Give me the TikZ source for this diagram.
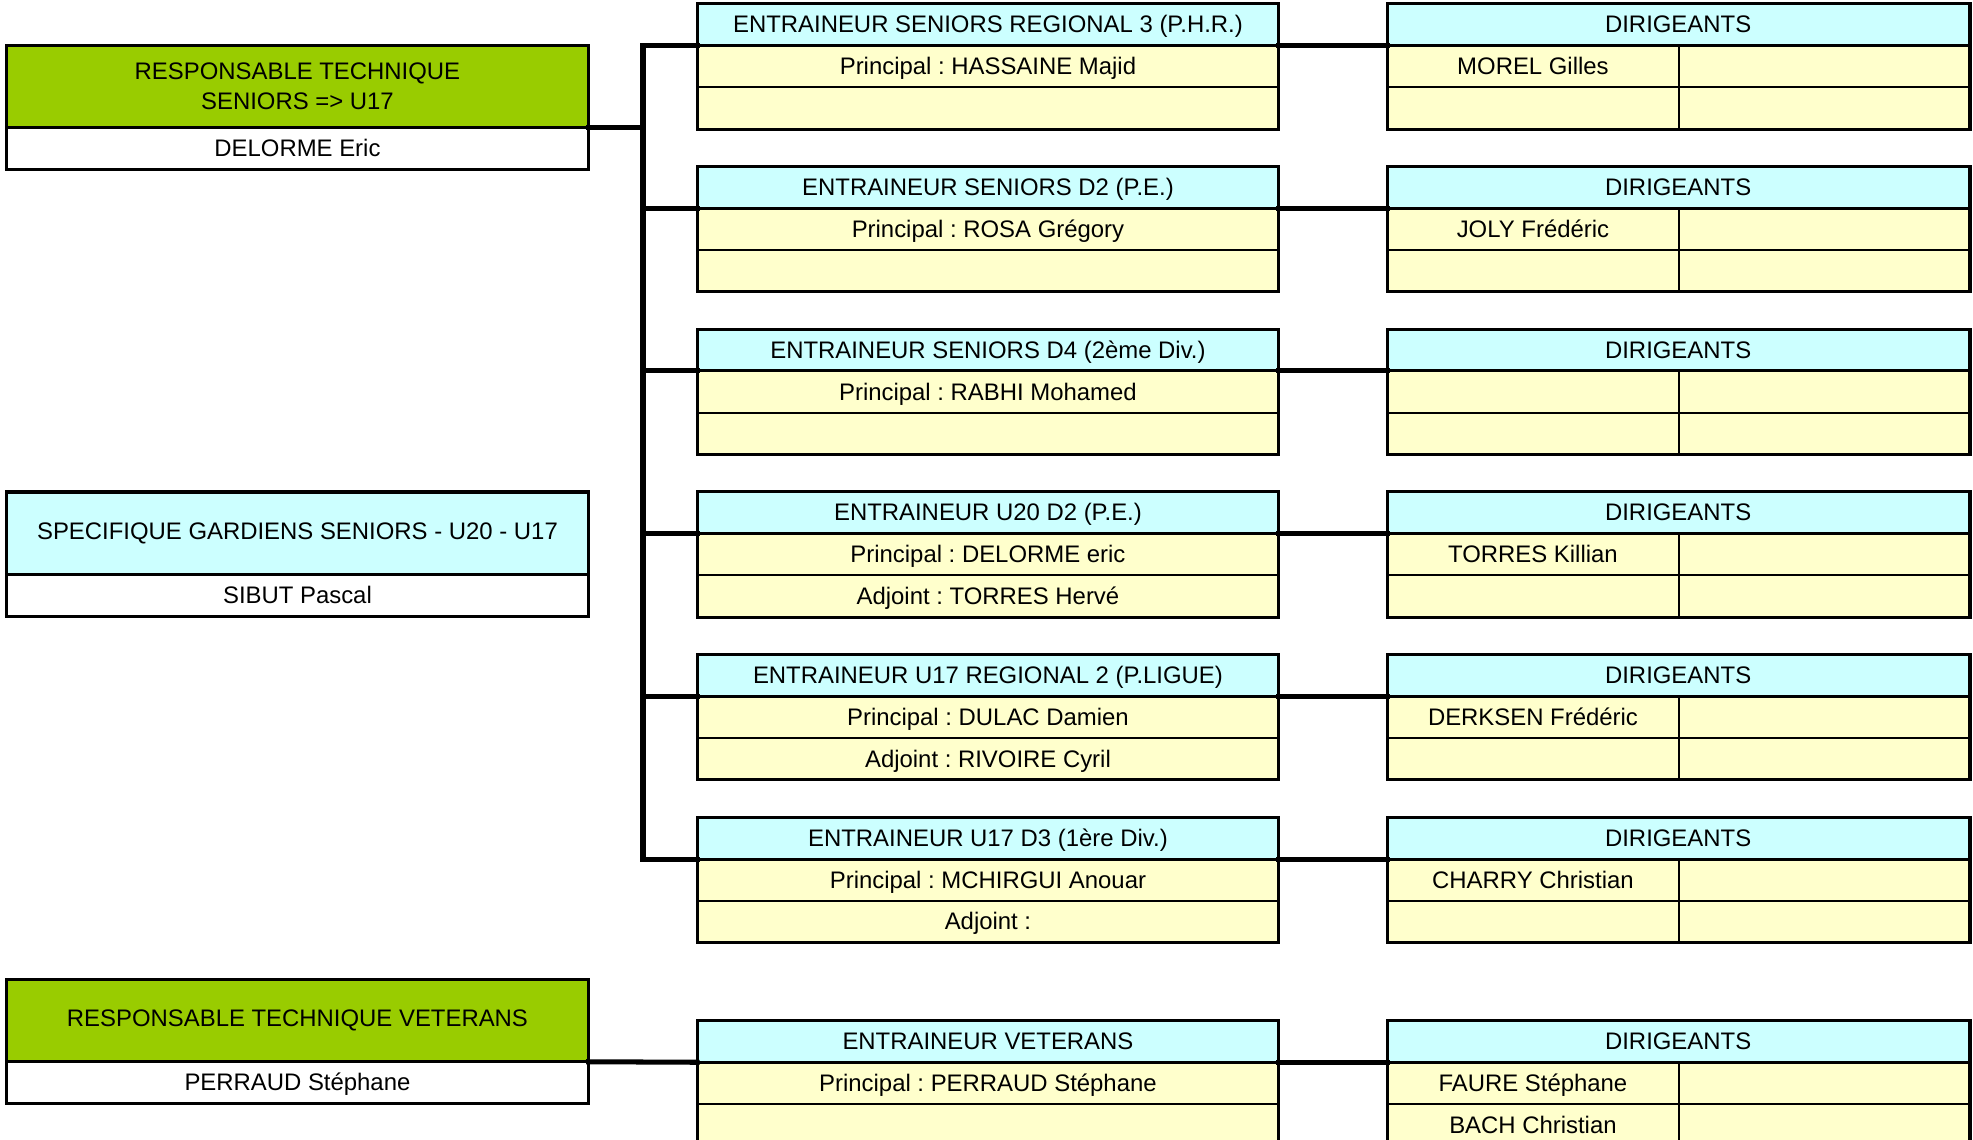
\documentclass[tikz,border=0pt]{standalone}
\usepackage{fontspec}
\setmainfont{Liberation Sans}
\frenchspacing
\usepackage{tikz}
\usetikzlibrary{positioning}
\definecolor{vert}{HTML}{99CC00}
\definecolor{bleuclair}{HTML}{CCFFFF}
\definecolor{jaune}{HTML}{FFFFCC}

\tikzset{
  base/.style={draw, line width=0.8pt, rectangle, inner sep=0pt, anchor=north west,
    font=\fontsize{19}{24}\selectfont},
  cell/.style={base, text height=16pt, text depth=3pt},
  head/.style={cell, fill=bleuclair, minimum width=461.5pt, minimum height=32.4pt},
  row/.style={cell, fill=jaune, minimum width=461.5pt, minimum height=32.4pt},
  half/.style={cell, fill=jaune, minimum width=230.75pt, minimum height=32.4pt},
  big/.style={base, minimum width=462pt, minimum height=64.5pt, align=center},
  nom/.style={cell, fill=white, minimum width=462pt, minimum height=32.5pt},
  frame/.style={line width=2.4pt},
  conn/.style={line width=4pt, line cap=rect}
}

\begin{document}
\begin{tikzpicture}[x=1pt, y=-1pt]
      \useasboundingbox (0,0) rectangle (1568,905.3);

      \node[big, fill=vert] (rt1) at (5,36) {RESPONSABLE TECHNIQUE\\SENIORS => U17};
      \node[nom] (rt1n) at (rt1.south west) {DELORME Eric};
      \node[big, fill=bleuclair] (gard) at (5,391) {SPECIFIQUE GARDIENS SENIORS - U20 - U17};
      \node[nom] (gardn) at (gard.south west) {SIBUT Pascal};
      \node[big, fill=vert] (rt2) at (5,778.5) {RESPONSABLE TECHNIQUE VETERANS};
      \node[nom] (rt2n) at (rt2.south west) {PERRAUD Stéphane};

      \node[head] (ent1) at (554,3) {ENTRAINEUR SENIORS REGIONAL 3 (P.H.R.)};
      \node[row] (ent1a) at (ent1.south west) {Principal : HASSAINE Majid};
      \node[row] (ent1b) at (ent1a.south west) {};
      \node[head] (ent2) at (554,132.3) {ENTRAINEUR SENIORS D2 (P.E.)};
      \node[row] (ent2a) at (ent2.south west) {Principal : ROSA Grégory};
      \node[row] (ent2b) at (ent2a.south west) {};
      \node[head] (ent3) at (554,261.6) {ENTRAINEUR SENIORS D4 (2ème Div.)};
      \node[row] (ent3a) at (ent3.south west) {Principal : RABHI Mohamed};
      \node[row] (ent3b) at (ent3a.south west) {};
      \node[head] (ent4) at (554,390.9) {ENTRAINEUR U20 D2 (P.E.)};
      \node[row] (ent4a) at (ent4.south west) {Principal : DELORME eric};
      \node[row] (ent4b) at (ent4a.south west) {Adjoint : TORRES Hervé};
      \node[head] (ent5) at (554,520.2) {ENTRAINEUR U17 REGIONAL 2 (P.LIGUE)};
      \node[row] (ent5a) at (ent5.south west) {Principal : DULAC Damien};
      \node[row] (ent5b) at (ent5a.south west) {Adjoint : RIVOIRE Cyril};
      \node[head] (ent6) at (554,649.5) {ENTRAINEUR U17 D3 (1ère Div.)};
      \node[row] (ent6a) at (ent6.south west) {Principal : MCHIRGUI Anouar};
      \node[row] (ent6b) at (ent6a.south west) {Adjoint :};
      \node[head] (ent7) at (554,811) {ENTRAINEUR VETERANS};
      \node[row] (ent7a) at (ent7.south west) {Principal : PERRAUD Stéphane};
      \node[row] (ent7b) at (ent7a.south west) {};

      \node[head] (dir1) at (1102.5,3) {DIRIGEANTS};
      \node[half] (dir1a) at (dir1.south west) {MOREL Gilles};
      \node[half] (dir1b) at (dir1a.north east) {};
      \node[half] (dir1c) at (dir1a.south west) {};
      \node[half] (dir1d) at (dir1c.north east) {};
      \node[head] (dir2) at (1102.5,132.3) {DIRIGEANTS};
      \node[half] (dir2a) at (dir2.south west) {JOLY Frédéric};
      \node[half] (dir2b) at (dir2a.north east) {};
      \node[half] (dir2c) at (dir2a.south west) {};
      \node[half] (dir2d) at (dir2c.north east) {};
      \node[head] (dir3) at (1102.5,261.6) {DIRIGEANTS};
      \node[half] (dir3a) at (dir3.south west) {};
      \node[half] (dir3b) at (dir3a.north east) {};
      \node[half] (dir3c) at (dir3a.south west) {};
      \node[half] (dir3d) at (dir3c.north east) {};
      \node[head] (dir4) at (1102.5,390.9) {DIRIGEANTS};
      \node[half] (dir4a) at (dir4.south west) {TORRES Killian};
      \node[half] (dir4b) at (dir4a.north east) {};
      \node[half] (dir4c) at (dir4a.south west) {};
      \node[half] (dir4d) at (dir4c.north east) {};
      \node[head] (dir5) at (1102.5,520.2) {DIRIGEANTS};
      \node[half] (dir5a) at (dir5.south west) {DERKSEN Frédéric};
      \node[half] (dir5b) at (dir5a.north east) {};
      \node[half] (dir5c) at (dir5a.south west) {};
      \node[half] (dir5d) at (dir5c.north east) {};
      \node[head] (dir6) at (1102.5,649.5) {DIRIGEANTS};
      \node[half] (dir6a) at (dir6.south west) {CHARRY Christian};
      \node[half] (dir6b) at (dir6a.north east) {};
      \node[half] (dir6c) at (dir6a.south west) {};
      \node[half] (dir6d) at (dir6c.north east) {};
      \node[head] (dir7) at (1102.5,811) {DIRIGEANTS};
      \node[half] (dir7a) at (dir7.south west) {FAURE Stéphane};
      \node[half] (dir7b) at (dir7a.north east) {};
      \node[half] (dir7c) at (dir7a.south west) {BACH Christian};
      \node[half] (dir7d) at (dir7c.north east) {};

      \draw[frame] (rt1.north west) rectangle (rt1n.south east);
      \draw[frame] (rt1.south west) -- (rt1.south east);
      \draw[frame] (gard.north west) rectangle (gardn.south east);
      \draw[frame] (gard.south west) -- (gard.south east);
      \draw[frame] (rt2.north west) rectangle (rt2n.south east);
      \draw[frame] (rt2.south west) -- (rt2.south east);

      \draw[frame] (ent1.north west) rectangle (ent1b.south east);
      \draw[frame] (ent1.south west) -- (ent1.south east);
      \draw[frame] (ent2.north west) rectangle (ent2b.south east);
      \draw[frame] (ent2.south west) -- (ent2.south east);
      \draw[frame] (ent3.north west) rectangle (ent3b.south east);
      \draw[frame] (ent3.south west) -- (ent3.south east);
      \draw[frame] (ent4.north west) rectangle (ent4b.south east);
      \draw[frame] (ent4.south west) -- (ent4.south east);
      \draw[frame] (ent5.north west) rectangle (ent5b.south east);
      \draw[frame] (ent5.south west) -- (ent5.south east);
      \draw[frame] (ent6.north west) rectangle (ent6b.south east);
      \draw[frame] (ent6.south west) -- (ent6.south east);
      \draw[frame] (ent7.north west) rectangle (ent7b.south east);
      \draw[frame] (ent7.south west) -- (ent7.south east);

      \draw[frame] (dir1.north west) rectangle (dir1d.south east);
      \draw[frame] (dir1.south west) -- (dir1.south east);
      \draw[frame] (dir2.north west) rectangle (dir2d.south east);
      \draw[frame] (dir2.south west) -- (dir2.south east);
      \draw[frame] (dir3.north west) rectangle (dir3d.south east);
      \draw[frame] (dir3.south west) -- (dir3.south east);
      \draw[frame] (dir4.north west) rectangle (dir4d.south east);
      \draw[frame] (dir4.south west) -- (dir4.south east);
      \draw[frame] (dir5.north west) rectangle (dir5d.south east);
      \draw[frame] (dir5.south west) -- (dir5.south east);
      \draw[frame] (dir6.north west) rectangle (dir6d.south east);
      \draw[frame] (dir6.south west) -- (dir6.south east);
      \draw[frame] (dir7.north west) rectangle (dir7d.south east);
      \draw[frame] (dir7.south west) -- (dir7.south east);

      \coordinate (tronc) at (511,0);
      \draw[conn] (rt1.south east) -- (rt1.south east -| tronc);
      \draw[conn] (ent1.south west -| tronc) -- (ent6.south west -| tronc);
      \draw[conn] (ent1.south west -| tronc) -- (ent1.south west);
      \draw[conn] (ent2.south west -| tronc) -- (ent2.south west);
      \draw[conn] (ent3.south west -| tronc) -- (ent3.south west);
      \draw[conn] (ent4.south west -| tronc) -- (ent4.south west);
      \draw[conn] (ent5.south west -| tronc) -- (ent5.south west);
      \draw[conn] (ent6.south west -| tronc) -- (ent6.south west);
      \draw[conn] (rt2.south east) -- (ent7.south west);

      \draw[conn] (ent1.south east) -- (dir1.south west);
      \draw[conn] (ent2.south east) -- (dir2.south west);
      \draw[conn] (ent3.south east) -- (dir3.south west);
      \draw[conn] (ent4.south east) -- (dir4.south west);
      \draw[conn] (ent5.south east) -- (dir5.south west);
      \draw[conn] (ent6.south east) -- (dir6.south west);
      \draw[conn] (ent7.south east) -- (dir7.south west);
\end{tikzpicture}
\end{document}
